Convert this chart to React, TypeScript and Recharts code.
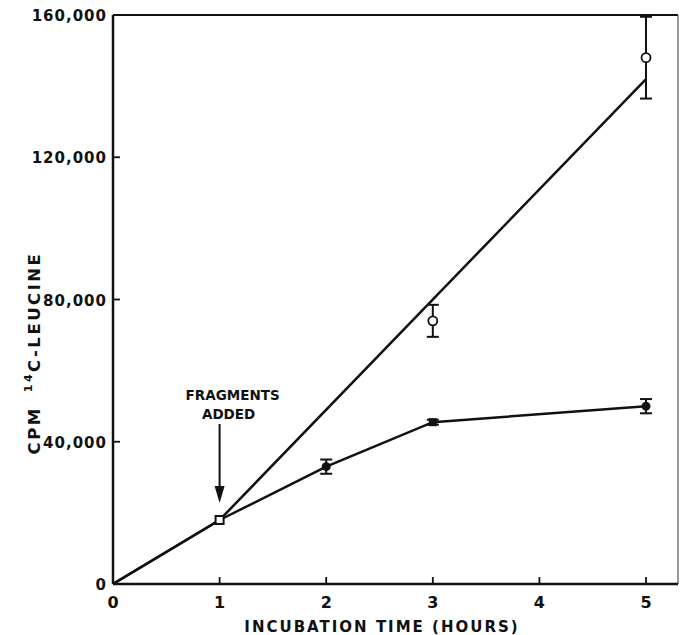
import React from "react";
import {
  ComposedChart,
  Line,
  XAxis,
  YAxis,
  ErrorBar,
  ReferenceLine,
  ReferenceDot,
} from "recharts";

// filled symbols: incubation without fragments
const filledHours = [0, 1, 2, 3, 5];
const filledCpm = [0, 18000, 33000, 45500, 50000];
const filledErr = [0, 0, 2000, 700, 2000];

// open symbols: fragments added at 1 h
const openHours = [1, 3, 5];
const openCpm = [18000, 74000, 148000];
const openErr = [0, 4500, 11500];

// straight line drawn through the open points
const fitHours = [0, 1, 5];
const fitCpm = [0, 18000, 142000];

const xTicks = [0, 1, 2, 3, 4, 5];
const yTicks = [0, 40000, 80000, 120000, 160000];

const filledData = filledHours.map((x, i) => ({ x, y: filledCpm[i], err: filledErr[i] }));
const openData = openHours.map((x, i) => ({ x, y: openCpm[i], err: openErr[i] }));
const fitData = fitHours.map((x, i) => ({ x, y: fitCpm[i] }));

const INK = "#111";
const FONT = "'DejaVu Sans', Arial, sans-serif";

function XTick({ x, y, payload }: any) {
  return (
    <g>
      <line x1={x} y1={y} x2={x} y2={y - 7} stroke={INK} strokeWidth={1.8} />
      <text x={x} y={y + 24} textAnchor="middle" fontFamily={FONT} fontWeight={700} fontSize={16} fill={INK}>
        {payload.value}
      </text>
    </g>
  );
}

function YTick({ x, y, payload }: any) {
  return (
    <g>
      <line x1={x} y1={y} x2={x + 7} y2={y} stroke={INK} strokeWidth={1.8} />
      <text
        x={x - 6}
        y={y + 6}
        textAnchor="end"
        fontFamily={FONT}
        fontWeight={700}
        fontSize={15}
        letterSpacing={1}
        fill={INK}
      >
        {payload.value.toLocaleString("en-US")}
      </text>
    </g>
  );
}

function FilledDot({ cx, cy, payload }: any) {
  if (payload.x < 2) return <g />;
  if (payload.x === 3) return <rect x={cx - 4} y={cy - 4} width={8} height={8} fill={INK} />;
  return <circle cx={cx} cy={cy} r={4.5} fill={INK} />;
}

function OpenDot({ cx, cy, payload }: any) {
  if (payload.x === 1)
    return <rect x={cx - 4} y={cy - 4} width={8} height={8} fill="#fff" stroke={INK} strokeWidth={2} />;
  return <circle cx={cx} cy={cy} r={4.5} fill="#fff" stroke={INK} strokeWidth={1.8} />;
}

function FragmentsNote({ cx, cy }: any) {
  const tip = cy - 17;
  return (
    <g>
      <line x1={cx} y1={cy - 96} x2={cx} y2={tip - 14} stroke={INK} strokeWidth={2} />
      <polygon points={`${cx - 5},${tip - 17} ${cx + 5},${tip - 17} ${cx},${tip}`} fill={INK} />
      <text x={cx + 13} y={cy - 120} textAnchor="middle" fontFamily={FONT} fontWeight={700} fontSize={13.5} fill={INK}>
        FRAGMENTS
      </text>
      <text x={cx + 9} y={cy - 101} textAnchor="middle" fontFamily={FONT} fontWeight={700} fontSize={13.5} fill={INK}>
        ADDED
      </text>
    </g>
  );
}

function XTitle() {
  return (
    <text x={382} y={632} textAnchor="middle" fontFamily={FONT} fontWeight={700} fontSize={15} letterSpacing={2} fill={INK}>
      INCUBATION TIME (HOURS)
    </text>
  );
}

function YTitle() {
  return (
    <text
      x={34}
      y={353}
      transform="rotate(-90, 34, 353)"
      textAnchor="middle"
      dominantBaseline="central"
      fontFamily={FONT}
      fontWeight={700}
      fontSize={16.5}
      letterSpacing={2.5}
      fill={INK}
    >
      CPM
      <tspan dx={14} dy={-6} fontSize={11}>
        14
      </tspan>
      <tspan dy={6}>C-LEUCINE</tspan>
    </text>
  );
}

export default function App() {
  return (
    <div style={{ position: "absolute", left: 0, top: 0, background: "#fff" }}>
      <ComposedChart width={681} height={635} margin={{ top: 15, right: 3, left: 13, bottom: 6 }}>
        <XAxis
          type="number"
          dataKey="x"
          domain={[0, 5.3]}
          ticks={xTicks}
          allowDataOverflow
          height={45}
          tickSize={0}
          tickMargin={0}
          tick={<XTick />}
          axisLine={{ stroke: INK, strokeWidth: 2.5 }}
          tickLine={false}
          label={<XTitle />}
        />
        <YAxis
          type="number"
          dataKey="y"
          domain={[0, 160000]}
          ticks={yTicks}
          width={100}
          tickSize={0}
          tickMargin={0}
          tick={<YTick />}
          axisLine={{ stroke: INK, strokeWidth: 2.5 }}
          tickLine={false}
          label={<YTitle />}
        />
        <ReferenceLine y={160000} stroke={INK} strokeWidth={1.8} />
        <ReferenceLine x={5.3} stroke="#555" strokeWidth={1.2} />
        <Line
          data={fitData}
          dataKey="y"
          stroke={INK}
          strokeWidth={2.5}
          dot={false}
          activeDot={false}
          isAnimationActive={false}
        />
        <Line
          data={filledData}
          dataKey="y"
          stroke={INK}
          strokeWidth={2.5}
          dot={<FilledDot />}
          activeDot={false}
          isAnimationActive={false}
        >
          <ErrorBar dataKey="err" width={6} stroke={INK} strokeWidth={2} direction="y" />
        </Line>
        <Line
          data={openData}
          dataKey="y"
          stroke="none"
          dot={<OpenDot />}
          activeDot={false}
          isAnimationActive={false}
        >
          <ErrorBar dataKey="err" width={6} stroke={INK} strokeWidth={2} direction="y" />
        </Line>
        <ReferenceDot x={1} y={18000} r={0} shape={<FragmentsNote />} />
      </ComposedChart>
    </div>
  );
}
